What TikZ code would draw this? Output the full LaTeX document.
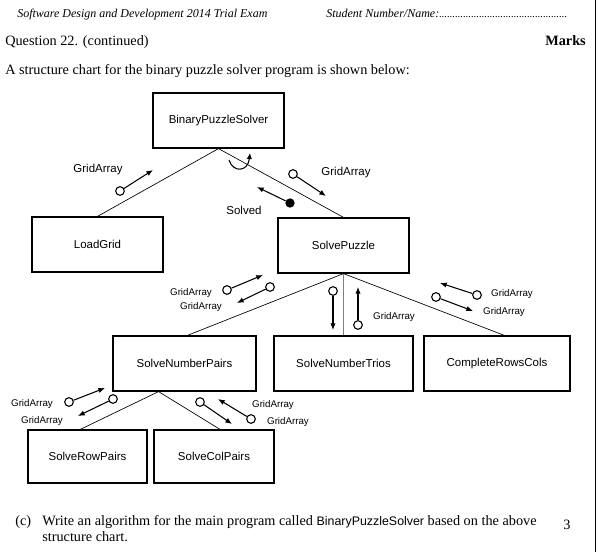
\documentclass[tikz,border=0pt]{standalone}
\usepackage{fontspec}
\setmainfont{Liberation Serif}
\newfontfamily\arialf{Liberation Sans}
\usetikzlibrary{arrows.meta,calc}
\begin{document}
\begin{tikzpicture}[x=0.75pt,y=-0.75pt,
  box/.style={draw,line width=0.9pt,rectangle,inner sep=0pt,minimum height=41.25pt,font=\arialf\fontsize{8.6}{10}\selectfont},
  link/.style={line width=0.5pt},
  couple/.style={line width=0.8pt,-{Latex[length=5pt,width=4pt]}},
  lbl/.style={font=\arialf\fontsize{8.6}{10}\selectfont,inner sep=0pt},
  slbl/.style={font=\arialf\fontsize{7.3}{9}\selectfont,inner sep=0pt},
  dat/.style={circle,draw,line width=0.8pt,fill=white,minimum size=6.5pt,inner sep=0pt},
  flag/.style={circle,fill=black,minimum size=7pt,inner sep=0pt},
  txt/.style={inner sep=0pt,anchor=base west,font=\fontsize{10.7}{13}\selectfont}
  ]
\useasboundingbox (0,0) rectangle (598,552);
% page furniture
\draw[line width=0.8pt] (595.5,0) -- (595.5,552);
\node[txt,font=\itshape\fontsize{9}{11}\selectfont] (hdr) at (17,18) {Software Design and Development 2014 Trial Exam};
\node[txt,font=\itshape\fontsize{9}{11}\selectfont] (stu) at (326,18) {Student Number/Name:\fontsize{8}{10}\selectfont................................................};
\node[txt] (q) at (5,46) {Question 22. (continued)};
\node[txt,anchor=base east,font=\bfseries\fontsize{10.7}{13}\selectfont] (marks) at (586,46) {Marks};
\node[txt] (intro) at (5,75) {A structure chart for the binary puzzle solver program is shown below:};
\node[txt] (c) at (15,525) {(c)};
\node[txt] (l1) at (42,525) {Write an algorithm for the main program called {\arialf\fontsize{9.3}{12}\selectfont BinaryPuzzleSolver} based on the above};
\node[txt] (l2) at (42,541) {structure chart.};
\node[txt,anchor=base] (mk) at (567,529) {3};
% boxes
\node[box,minimum width=98.25pt] (bps) at (218.5,120.5) {BinaryPuzzleSolver};
\node[box,minimum width=98.25pt] (lg) at (97.5,244.5) {LoadGrid};
\node[box,minimum width=98.25pt] (sp) at (343.5,245.5) {SolvePuzzle};
\node[box,minimum width=107.25pt] (snp) at (184.5,363.5) {SolveNumberPairs};
\node[box,minimum width=104.25pt] (snt) at (343.5,363.5) {SolveNumberTrios};
\node[box,minimum width=109.5pt] (crc) at (497,363.5) {CompleteRowsCols};
\node[box,minimum width=89.25pt,minimum height=39.75pt] (srp) at (87.5,456.5) {SolveRowPairs};
\node[box,minimum width=90pt,minimum height=39.75pt] (scp) at (214,456.5) {SolveColPairs};
% links
\draw[link] (bps.south) -- (lg.north);
\draw[link] (bps.south) -- (sp.north);
\draw[link] (sp.south) -- ($(snp.north west)!0.52!(snp.north east)$);
\draw[link,gray] (sp.south) -- (snt.north);
\draw[link] (sp.south) -- ($(crc.north west)!0.55!(crc.north east)$);
\coordinate (snpb) at ($(snp.south west)!0.32!(snp.south east)$);
\draw[link] (snpb) -- ($(srp.north west)!0.44!(srp.north east)$);
\draw[link] (snpb) -- ($(scp.north west)!0.55!(scp.north east)$);
% loop
\coordinate (la) at (229,160);
\coordinate (lb) at (250,153);
\draw[line width=0.8pt,-{Latex[length=4.5pt,width=4pt]}] (la) .. controls (233,173) and (248,172) .. (lb);
% top couples
\node[dat] (c1) at (120,191) {}; \coordinate (t1) at (153,170);
\draw[couple] (c1) -- (t1);
\node[lbl] (g1) at (98,170) {GridArray};
\node[dat] (c2) at (293,174) {}; \coordinate (t2) at (326,196);
\draw[couple] (c2) -- (t2);
\node[lbl] (g2) at (346,173) {GridArray};
\node[flag] (f1) at (290,203) {}; \coordinate (t3) at (257,187);
\draw[couple] (f1) -- (t3);
\node[lbl] (s1) at (244,210) {Solved};
% middle couples
\node[dat] (c4) at (227,290) {}; \coordinate (t4) at (263,275);
\draw[couple] (c4) -- (t4);
\node[slbl] (g4) at (191,293) {GridArray};
\node[dat] (c5) at (270,287) {}; \coordinate (t5) at (237,303);
\draw[couple] (c5) -- (t5);
\node[slbl] (g5) at (201,307) {GridArray};
\node[dat] (c6) at (333,291) {}; \coordinate (t6) at (333,330);
\draw[couple] (c6) -- (t6);
\node[dat] (c7) at (358,325) {}; \coordinate (t7) at (358,287);
\draw[couple] (c7) -- (t7);
\node[slbl] (g7) at (394,317) {GridArray};
\node[dat] (c8) at (477,295) {}; \coordinate (t8) at (440,283);
\draw[couple] (c8) -- (t8);
\node[slbl] (g8) at (512,294) {GridArray};
\node[dat] (c9) at (436,297) {}; \coordinate (t9) at (473,311);
\draw[couple] (c9) -- (t9);
\node[slbl] (g9) at (504,312) {GridArray};
% bottom couples
\node[dat] (c10) at (69,402) {}; \coordinate (t10) at (105,388);
\draw[couple] (c10) -- (t10);
\node[slbl] (g10) at (32,404) {GridArray};
\node[dat] (c11) at (113,399) {}; \coordinate (t11) at (78,416);
\draw[couple] (c11) -- (t11);
\node[slbl] (g11) at (42,421) {GridArray};
\node[dat] (c12) at (200,402) {}; \coordinate (t12) at (232,424);
\draw[couple] (c12) -- (t12);
\node[slbl] (g12) at (273,405) {GridArray};
\node[dat] (c13) at (251,419) {}; \coordinate (t13) at (218,399);
\draw[couple] (c13) -- (t13);
\node[slbl] (g13) at (288,422) {GridArray};
\end{tikzpicture}
\end{document}
